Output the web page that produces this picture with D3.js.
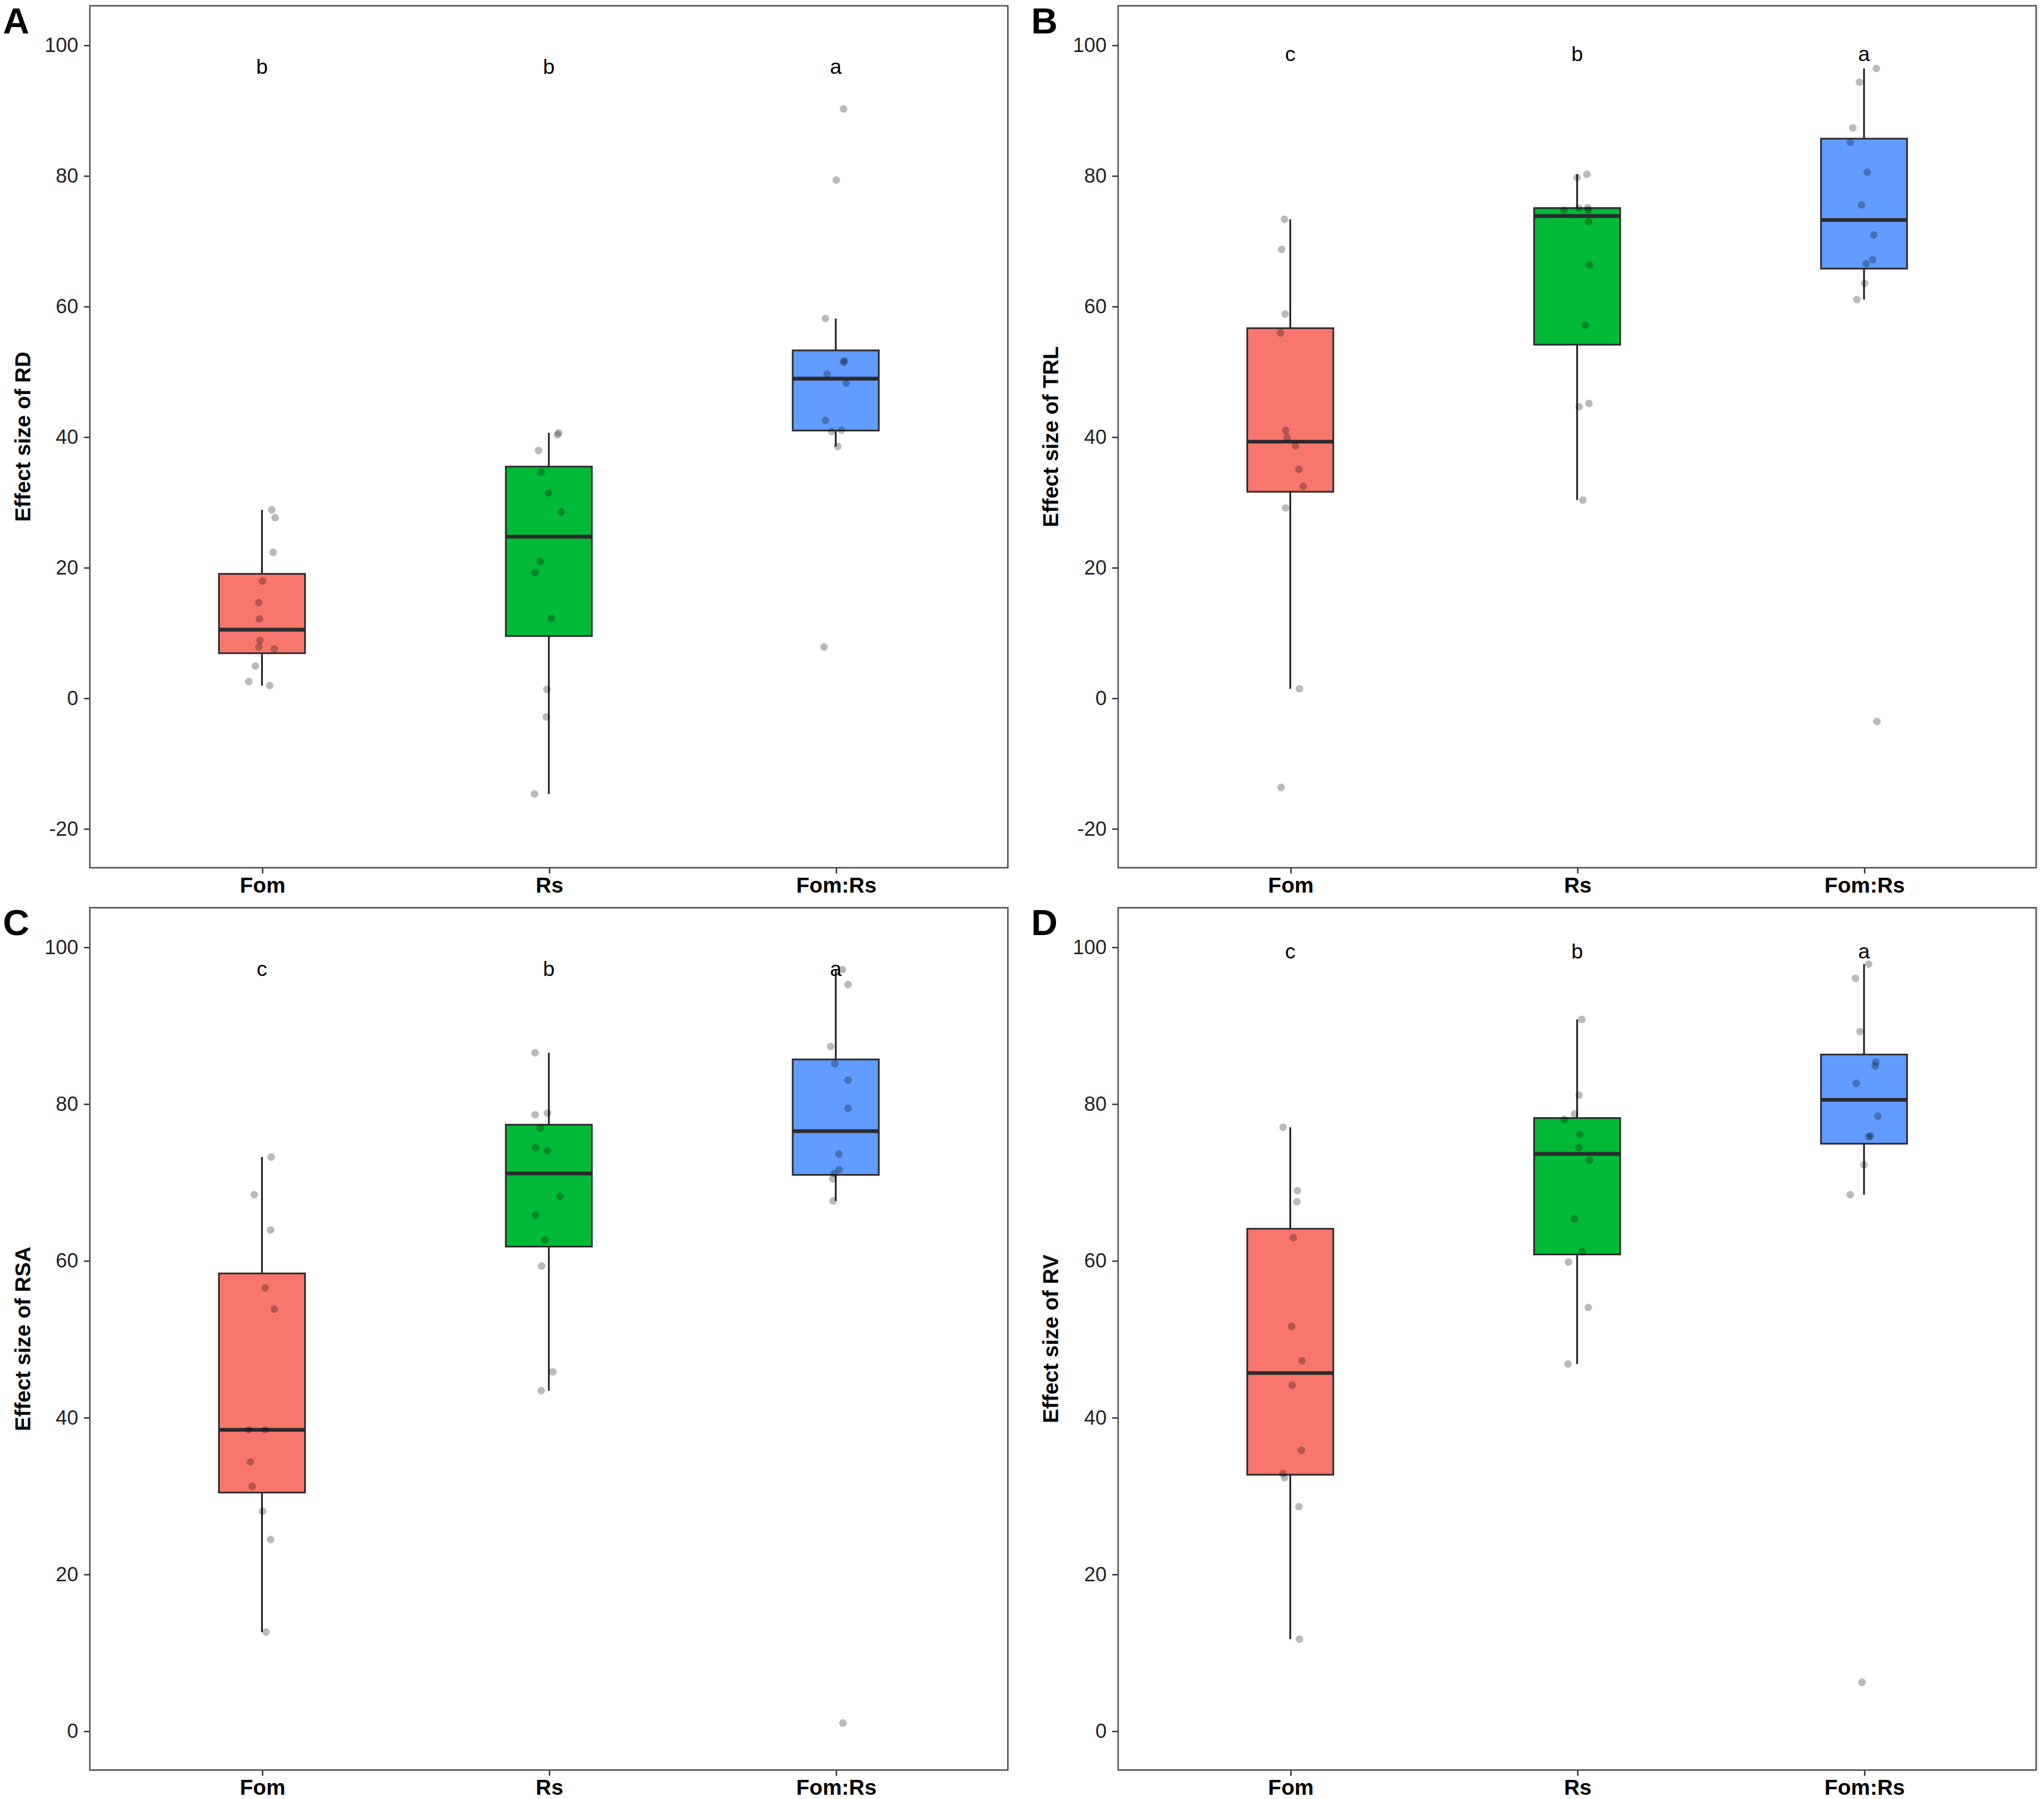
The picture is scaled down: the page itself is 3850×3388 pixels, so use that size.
<!DOCTYPE html>
<html>
<head>
<meta charset="utf-8">
<script src="https://cdn.jsdelivr.net/npm/d3@7"></script>
<style>
  body { margin: 0; background: #fff; }
</style>
</head>
<body>
<script>
// groups on the x axis and their box colours
var groups = ["Fom", "Rs", "Fom:Rs"];
var boxFills = ["#F8766D", "#00BA38", "#619CFF"];

// one entry per panel
var panelIds = ["A", "B", "C", "D"];
var yTitles = ["Effect size of RD", "Effect size of TRL", "Effect size of RSA", "Effect size of RV"];
var sigLetters = [["b", "b", "a"], ["c", "b", "a"], ["c", "b", "a"], ["c", "b", "a"]];
var sigLetterY = [95.6, 97.5, 96.3, 98.5];
var yLimits = [[-20, 100], [-20, 100], [0, 100], [0, 100]];
var yTickValues = [
    [-20, 0, 20, 40, 60, 80, 100],
    [-20, 0, 20, 40, 60, 80, 100],
    [0, 20, 40, 60, 80, 100],
    [0, 20, 40, 60, 80, 100]
];

var rdValues = [
    [28.8, 27.6, 22.3, 17.9, 14.6, 12.1, 8.8, 7.8, 7.5, 4.9, 2.5, 1.9],
    [40.6, 40.3, 37.9, 34.6, 31.4, 28.5, 20.9, 19.2, 12.2, 1.3, -2.9, -14.7],
    [90.2, 79.3, 58.1, 51.6, 51.4, 49.6, 48.2, 42.5, 41.0, 40.8, 38.5, 7.8]
];
var trlValues = [
    [73.3, 68.7, 58.8, 55.9, 40.95, 39.9, 38.6, 35.0, 32.4, 29.1, 1.4, -13.7],
    [80.2, 79.7, 75.1, 75.0, 74.7, 74.7, 72.9, 66.3, 57.1, 45.1, 44.6, 30.3],
    [96.4, 94.3, 87.3, 85.1, 80.5, 75.5, 70.9, 67.1, 66.5, 63.5, 61.0, -3.6]
];
var rsaValues = [
    [73.2, 68.4, 63.9, 56.5, 53.8, 38.4, 38.4, 34.3, 31.2, 28.0, 24.4, 12.6],
    [86.5, 78.8, 78.6, 76.9, 74.4, 74.0, 68.2, 65.8, 62.6, 59.3, 45.8, 43.4],
    [97.1, 95.2, 87.3, 85.1, 83.0, 79.4, 73.6, 71.6, 71.1, 70.4, 67.6, 1.0]
];
var rvValues = [
    [77.0, 68.9, 67.5, 62.9, 51.6, 47.2, 44.1, 35.8, 32.8, 32.3, 28.6, 11.7],
    [90.75, 81.1, 78.7, 78.0, 76.1, 74.4, 72.8, 65.3, 61.1, 59.8, 54.0, 46.8],
    [97.8, 96.0, 89.2, 85.3, 84.8, 82.6, 78.4, 75.9, 75.8, 72.2, 68.4, 6.2]
];

// horizontal jitter of each point, in category steps
var rdJitter = [
    [0.034, 0.046, 0.039, 0.002, -0.011, -0.009, -0.007, -0.011, 0.043, -0.023, -0.046, 0.027],
    [0.034, 0.030, -0.036, -0.027, -0.002, 0.043, -0.030, -0.048, 0.009, -0.007, -0.009, -0.050],
    [0.027, 0.002, -0.036, 0.030, 0.027, -0.030, 0.036, -0.036, 0.020, -0.014, 0.007, -0.041]
];
var trlJitter = [
    [-0.020, -0.030, -0.018, -0.034, -0.016, -0.011, 0.018, 0.030, 0.045, -0.016, 0.032, -0.032],
    [0.034, 0.000, 0.037, 0.006, -0.046, 0.039, 0.040, 0.043, 0.028, 0.041, 0.007, 0.020],
    [0.043, -0.016, -0.039, -0.048, 0.011, -0.009, 0.034, 0.030, 0.007, 0.002, -0.025, 0.045]
];
var rsaJitter = [
    [0.032, -0.027, 0.030, 0.011, 0.043, -0.046, 0.011, -0.041, -0.034, 0.002, 0.030, 0.014],
    [-0.048, -0.005, -0.048, -0.030, -0.046, -0.005, 0.039, -0.046, -0.014, -0.025, 0.014, -0.027],
    [0.023, 0.043, -0.018, -0.003, 0.043, 0.043, 0.011, 0.012, -0.006, -0.010, -0.009, 0.025]
];
var rvJitter = [
    [-0.025, 0.025, 0.023, 0.011, 0.005, 0.041, 0.007, 0.039, -0.025, -0.020, 0.030, 0.032],
    [0.016, 0.007, -0.009, -0.045, 0.009, 0.007, 0.043, -0.009, 0.018, -0.030, 0.039, -0.032],
    [0.016, -0.030, -0.014, 0.041, 0.039, -0.027, 0.048, 0.023, 0.016, 0.000, -0.048, -0.007]
];

var panelValues = [rdValues, trlValues, rsaValues, rvValues];
var panelJitter = [rdJitter, trlJitter, rsaJitter, rvJitter];

var fontFamily = "'Liberation Sans', Arial, Helvetica, sans-serif";

var svg = d3.select("body").append("svg")
    .attr("width", 3850)
    .attr("height", 3388)
    .attr("viewBox", "0 0 1563 1375.4")
    .style("font-family", fontFamily);

svg.append("rect").attr("width", 1563).attr("height", 1375.4).attr("fill", "#fff");

// boxplot statistics the ggplot way (type 7 quantiles, 1.5 IQR whiskers)
function boxStats(values) {
    var s = values.slice().sort(d3.ascending);
    var q1 = d3.quantile(s, 0.25), med = d3.quantile(s, 0.5), q3 = d3.quantile(s, 0.75);
    var iqr = q3 - q1;
    return {
        q1: q1, med: med, q3: q3,
        lo: d3.min(s.filter(function(d) { return d >= q1 - 1.5 * iqr; })),
        hi: d3.max(s.filter(function(d) { return d <= q3 + 1.5 * iqr; }))
    };
}

var panelWidth = 702;

panelIds.forEach(function(id, i) {
    var left = (i % 2 === 0) ? 68.7 : 855;
    var right = left + panelWidth;
    var top = (i < 2) ? 4.4 : 694;
    var bottom = (i < 2) ? 663.4 : 1353.3;

    var lim = yLimits[i];
    var pad = 0.05 * (lim[1] - lim[0]);
    var y = d3.scaleLinear().domain([lim[0] - pad, lim[1] + pad]).range([bottom, top]);
    var x = d3.scalePoint().domain(groups).range([left, right]).padding(0.6);
    var step = x.step();
    var boxW = 0.3 * step;

    var g = svg.append("g");

    // y axis (plain hyphen for negatives, as in the original)
    var yAxis = g.append("g")
        .attr("transform", "translate(" + left + ",0)")
        .call(d3.axisLeft(y).tickValues(yTickValues[i])
            .tickFormat(function(d) { return String(d); })
            .tickSize(4.5).tickPadding(4.3));
    yAxis.select(".domain").remove();
    yAxis.selectAll(".tick line").attr("stroke", "#333").attr("stroke-width", 1.1);
    yAxis.selectAll(".tick text")
        .attr("fill", "#222")
        .style("font-family", fontFamily)
        .style("font-size", "15.5px");

    // x axis
    var xAxis = g.append("g")
        .attr("transform", "translate(0," + bottom + ")")
        .call(d3.axisBottom(x).tickSize(4.4).tickPadding(2.8));
    xAxis.select(".domain").remove();
    xAxis.selectAll(".tick line").attr("stroke", "#333").attr("stroke-width", 1.1);
    xAxis.selectAll(".tick text")
        .attr("fill", "#000")
        .style("font-family", fontFamily)
        .style("font-size", "16.5px")
        .style("font-weight", "bold");

    // y title
    g.append("text")
        .attr("transform", "translate(" + (left - 51.5) + "," + ((top + bottom) / 2) + ") rotate(-90)")
        .attr("text-anchor", "middle")
        .attr("dy", "0.35em")
        .style("font-size", "16.5px")
        .style("font-weight", "bold")
        .attr("fill", "#000")
        .text(yTitles[i]);

    // panel letter
    g.append("text")
        .attr("x", left - 66.5)
        .attr("y", top + 21)
        .style("font-size", "28px")
        .style("font-weight", "bold")
        .attr("fill", "#000")
        .text(id);

    var values = panelValues[i];
    var jitter = panelJitter[i];

    groups.forEach(function(grp, k) {
        var st = boxStats(values[k]);
        var cx = x(grp);

        // whiskers
        g.append("line")
            .attr("x1", cx).attr("x2", cx)
            .attr("y1", y(st.hi)).attr("y2", y(st.q3))
            .attr("stroke", "#1a1a1a").attr("stroke-width", 1.3);
        g.append("line")
            .attr("x1", cx).attr("x2", cx)
            .attr("y1", y(st.q1)).attr("y2", y(st.lo))
            .attr("stroke", "#1a1a1a").attr("stroke-width", 1.3);

        // box
        g.append("rect")
            .attr("x", cx - boxW / 2)
            .attr("y", y(st.q3))
            .attr("width", boxW)
            .attr("height", y(st.q1) - y(st.q3))
            .attr("fill", boxFills[k])
            .attr("stroke", "#2b2b2b")
            .attr("stroke-width", 1.3);

        // median
        g.append("line")
            .attr("x1", cx - boxW / 2).attr("x2", cx + boxW / 2)
            .attr("y1", y(st.med)).attr("y2", y(st.med))
            .attr("stroke", "#2b2b2b").attr("stroke-width", 2.9);
    });

    // jittered points
    groups.forEach(function(grp, k) {
        g.append("g").selectAll("circle")
            .data(values[k])
            .join("circle")
            .attr("cx", function(d, j) { return x(grp) + jitter[k][j] * step; })
            .attr("cy", function(d) { return y(d); })
            .attr("r", 2.9)
            .attr("fill", "#000")
            .attr("fill-opacity", 0.27);
    });

    // significance letters
    g.append("g").selectAll("text")
        .data(sigLetters[i])
        .join("text")
        .attr("x", function(d, k) { return x(groups[k]); })
        .attr("y", y(sigLetterY[i]))
        .attr("text-anchor", "middle")
        .style("font-size", "16px")
        .attr("fill", "#000")
        .text(function(d) { return d; });

    // panel border
    g.append("rect")
        .attr("x", left).attr("y", top)
        .attr("width", right - left).attr("height", bottom - top)
        .attr("fill", "none")
        .attr("stroke", "#4d4d4d")
        .attr("stroke-width", 1.1);
});
</script>
</body>
</html>
